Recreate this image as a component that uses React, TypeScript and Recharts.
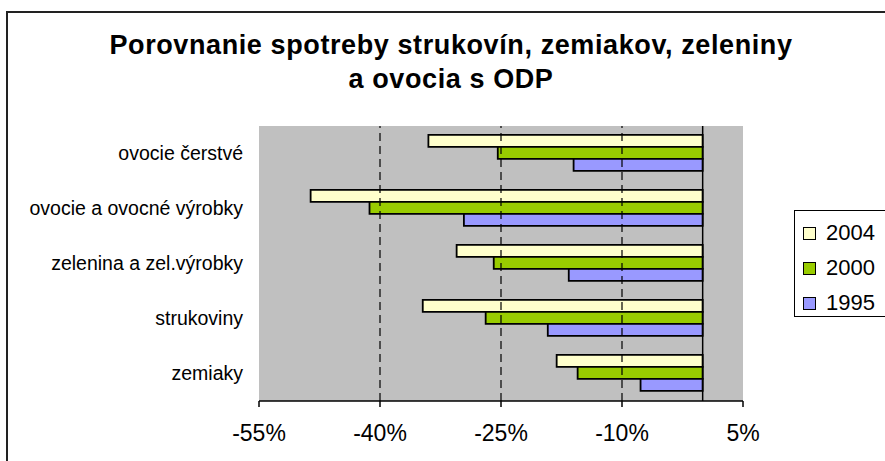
import React from 'react';
import { BarChart, Bar, XAxis, YAxis, CartesianGrid, ReferenceLine, Legend } from 'recharts';

const categories = ['ovocie čerstvé', 'ovocie a ovocné výrobky', 'zelenina a zel.výrobky', 'strukoviny', 'zemiaky'];
const v2004 = [-34.0, -48.6, -30.5, -34.7, -18.1];
const v2000 = [-25.4, -41.3, -25.9, -26.9, -15.5];
const v1995 = [-16.0, -29.6, -16.6, -19.2, -7.7];
const xTicks = [-55, -40, -25, -10, 5];
const gridValues = [-40, -25, -10];
const titleLines = ['Porovnanie spotreby strukovín, zemiakov, zeleniny', 'a ovocia s ODP'];

const series = [
  { key: 'y2004', name: '2004', color: '#FFFFCC' },
  { key: 'y2000', name: '2000', color: '#99CC00' },
  { key: 'y1995', name: '1995', color: '#9999FF' },
];

const data = categories.map((c, i) => ({ name: c, y2004: v2004[i], y2000: v2000[i], y1995: v1995[i] }));

const FONT = '"Liberation Sans", Arial, sans-serif';

const LegendBox = () => (
  <div
    style={{
      border: '1px solid #000',
      background: '#fff',
      width: 100,
      height: 107,
      boxSizing: 'border-box',
      paddingTop: 5,
      fontFamily: FONT,
    }}
  >
    {series.map((s) => (
      <div key={s.key} style={{ display: 'flex', alignItems: 'center', height: 36, marginTop: -1 }}>
        <div
          style={{
            width: 11,
            height: 11,
            background: s.color,
            border: '1.5px solid #000',
            marginLeft: 8,
            marginRight: 10,
          }}
        />
        <span style={{ fontSize: 22, color: '#000' }}>{s.name}</span>
      </div>
    ))}
  </div>
);

export default function App() {
  return (
    <div style={{ position: 'absolute', left: 0, top: 0, width: 885, height: 461, overflow: 'hidden', background: '#fff' }}>
      <div
        style={{
          position: 'absolute',
          left: 6,
          top: 11,
          width: 920,
          height: 500,
          borderTop: '2px solid #222',
          borderLeft: '2px solid #222',
        }}
      />
      {titleLines.map((t, i) => (
        <div
          key={i}
          style={{
            position: 'absolute',
            left: 0,
            width: 902,
            top: 28 + i * 34,
            textAlign: 'center',
            fontFamily: FONT,
            fontWeight: 'bold',
            fontSize: 27,
            letterSpacing: 0.6,
            lineHeight: '34px',
            color: '#000',
          }}
        >
          {t}
        </div>
      ))}
      <div style={{ position: 'absolute', left: 0, top: 0 }}>
        <BarChart
          width={885}
          height={461}
          data={data}
          layout="vertical"
          margin={{ top: 126, right: 142, bottom: 30, left: 59 }}
          barCategoryGap="16%"
          barGap={0}
        >
          <CartesianGrid fill="#C0C0C0" horizontal={false} vertical={false} />
          <XAxis
            type="number"
            domain={[-55, 5]}
            ticks={xTicks}
            tickFormatter={(v) => `${v}%`}
            axisLine={{ stroke: '#000', strokeWidth: 1.5 }}
            tickLine={{ stroke: '#000', strokeWidth: 1.5 }}
            tickSize={6}
            tickMargin={18}
            height={30}
            tick={{ fill: '#000', fontSize: 23, fontFamily: FONT }}
            interval={0}
            allowDataOverflow
          />
          <YAxis
            type="category"
            dataKey="name"
            width={200}
            axisLine={false}
            tickLine={false}
            tickSize={0}
            tickMargin={16}
            tick={{ fill: '#000', fontSize: 19.5, fontFamily: FONT }}
            interval={0}
          />
          {gridValues.map((g) => (
            <ReferenceLine key={g} x={g} stroke="#000" strokeWidth={1.2} strokeDasharray="8 5" />
          ))}
          {series.map((s) => (
            <Bar
              key={s.key}
              dataKey={s.key}
              name={s.name}
              fill={s.color}
              stroke="#000"
              strokeWidth={1.8}
              isAnimationActive={false}
            />
          ))}
          <ReferenceLine x={0} stroke="#000" strokeWidth={1.5} />
          <Legend
            layout="vertical"
            align="center"
            verticalAlign="middle"
            content={() => <LegendBox />}
            wrapperStyle={{ left: 794, top: 210, width: 100, height: 107 }}
          />
        </BarChart>
      </div>
    </div>
  );
}
